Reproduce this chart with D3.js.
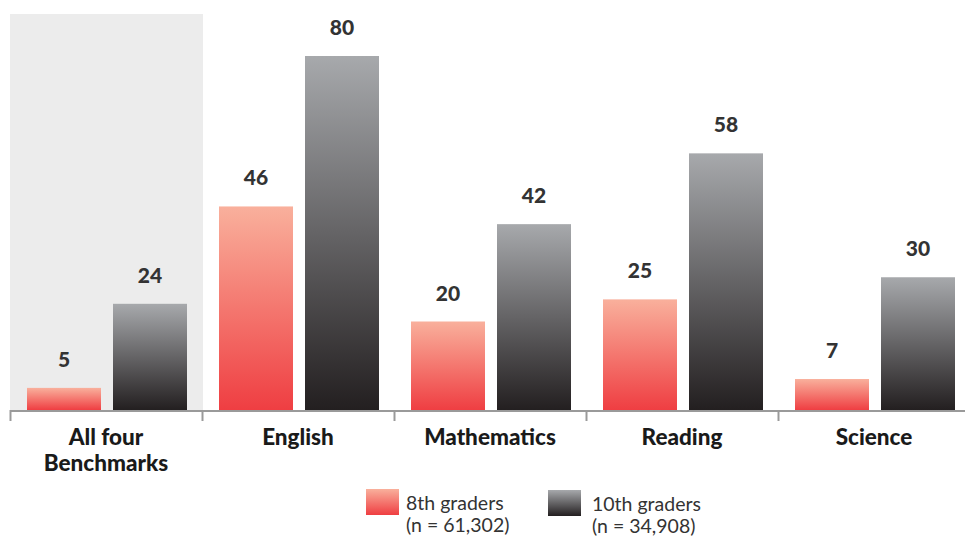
<!DOCTYPE html>
<html><head><meta charset="utf-8">
<script src="https://cdn.jsdelivr.net/npm/d3@7"></script>
<style>body{margin:0;background:#fff;} svg{display:block;font-family:Lato,"Open Sans",sans-serif;}</style>
</head><body>
<svg id="c" width="965" height="538"></svg>
<script>
const categories = [["All four","Benchmarks"],["English"],["Mathematics"],["Reading"],["Science"]];
const catKeys = ["All four Benchmarks","English","Mathematics","Reading","Science"];
const series = ["8th graders","10th graders"];
const seriesN = ["(n = 61,302)","(n = 34,908)"];
const grade8 = [5,46,20,25,7];
const grade10 = [24,80,42,58,30];
const values = [grade8, grade10];

const svg = d3.select("#c");
const x = d3.scaleBand().domain(catKeys).range([10,970]).padding(0);
const xs = d3.scaleBand().domain(series).range([17,177]).paddingInner(12/86).paddingOuter(0);
const y = d3.scaleLinear().domain([0,80]).range([410,56]);

const defs = svg.append("defs");
const gradStops = [["#f9b09c","#ef3e42"],["#a7a9ac","#231f20"]];
series.forEach((s,i)=>{
  const g = defs.append("linearGradient").attr("id","g"+i).attr("x1",0).attr("y1",0).attr("x2",0).attr("y2",1);
  g.append("stop").attr("offset",0).attr("stop-color",gradStops[i][0]);
  g.append("stop").attr("offset",1).attr("stop-color",gradStops[i][1]);
});

// highlight band
svg.append("rect").attr("x",x(catKeys[0])).attr("y",14).attr("width",x.bandwidth()+1).attr("height",y(0)-14).attr("fill","#ececec");

// bars
catKeys.forEach((c,ci)=>{
  series.forEach((s,si)=>{
    const v = values[si][ci];
    svg.append("rect").attr("x",x(c)+xs(s)).attr("y",y(v)).attr("width",xs.bandwidth()).attr("height",y(0)-y(v)).attr("fill","url(#g"+si+")");
    svg.append("text").attr("x",x(c)+xs(s)+xs.bandwidth()/2).attr("y",y(v)-21)
      .attr("text-anchor","middle").attr("font-size",21).attr("font-weight",900).attr("fill","#333").text(v);
  });
});

// axis
svg.append("line").attr("x1",10).attr("x2",965).attr("y1",y(0)+1).attr("y2",y(0)+1).attr("stroke","#9a9a9a").attr("stroke-width",2);
catKeys.forEach(c=>{
  svg.append("line").attr("x1",x(c)+0.5).attr("x2",x(c)+0.5).attr("y1",y(0)).attr("y2",y(0)+11).attr("stroke","#9a9a9a").attr("stroke-width",2);
});
catKeys.forEach((c,ci)=>{
  const t = svg.append("text").attr("x",x(c)+x.bandwidth()/2).attr("y",445).attr("text-anchor","middle")
    .attr("font-size",22.5).attr("font-weight",900).attr("fill","#1a1a1a");
  categories[ci].forEach((line,li)=>{
    t.append("tspan").attr("x",x(c)+x.bandwidth()/2).attr("dy",li?26:0).text(line);
  });
});

// legend
const legX = [366,548], legY=[489,490], textX=[406,592], textY=[510,511];
series.forEach((s,i)=>{
  svg.append("rect").attr("x",legX[i]).attr("y",legY[i]).attr("width",33).attr("height",26).attr("fill","url(#g"+i+")");
  const t = svg.append("text").attr("x",textX[i]).attr("y",textY[i]).attr("font-size",19.5).attr("fill","#333");
  t.append("tspan").attr("x",textX[i]).text(s);
  t.append("tspan").attr("x",textX[i]).attr("dy",22).text(seriesN[i]);
});
</script>
</body></html>
